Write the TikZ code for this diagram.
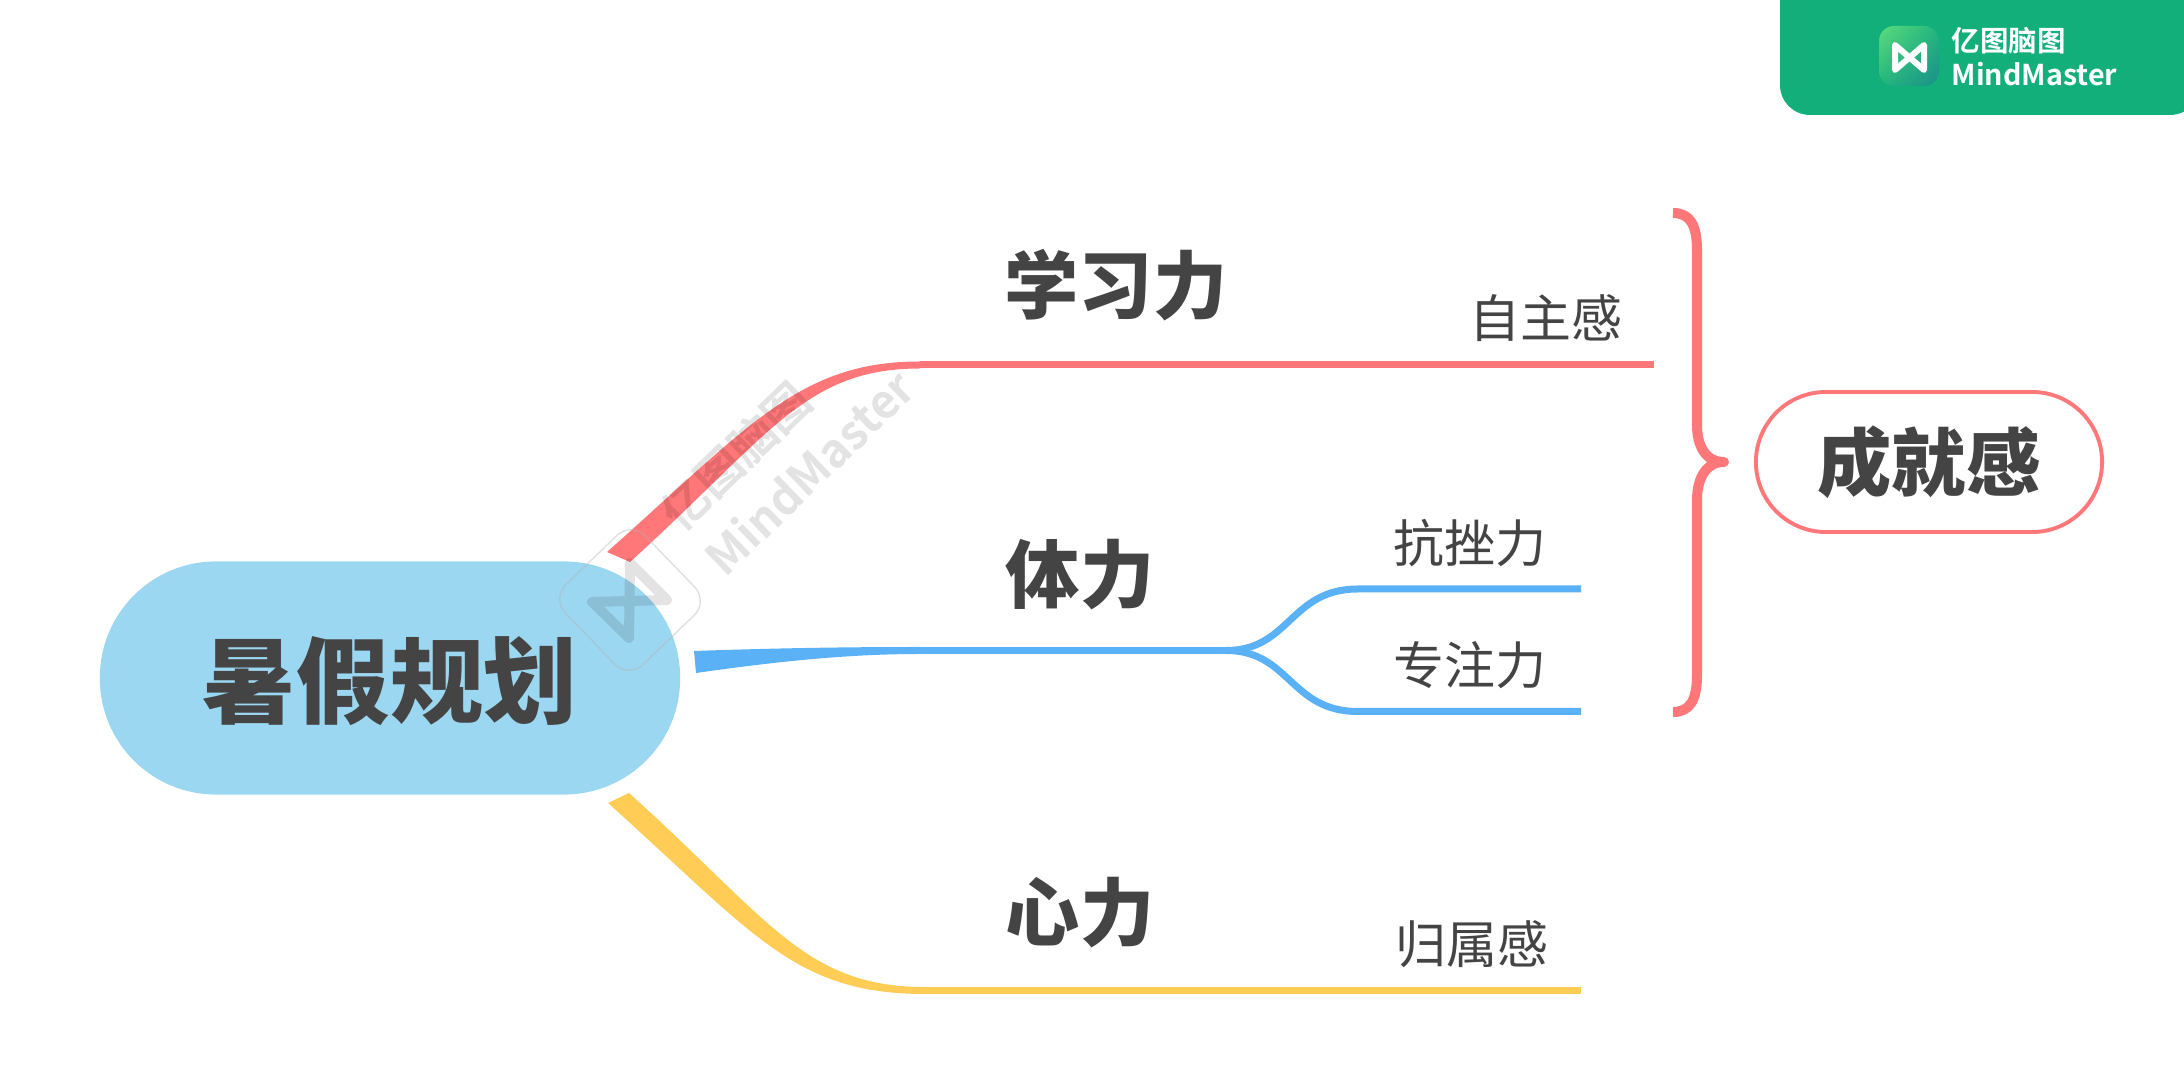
\documentclass[tikz,border=0pt]{standalone}
\usepackage{fontspec}
\setmainfont{Noto Sans CJK SC}
\newfontfamily\heavyfont{Noto Sans CJK SC Black}
\newfontfamily\boldcjk{Noto Sans CJK SC Bold}
\usetikzlibrary{
  positioning
  , calc
  , shadings
}
\definecolor{redline}{HTML}{FF7778}
\definecolor{blueline}{HTML}{5AB1F6}
\definecolor{yellowline}{HTML}{FFCC55}
\definecolor{heroblue}{HTML}{9CD7F1}
\definecolor{inkgray}{HTML}{444444}
\definecolor{badgegreen}{HTML}{12AF7B}
\definecolor{iconlight}{HTML}{5CDC7E}
\definecolor{iconmid}{HTML}{22B67C}
\definecolor{icondark}{HTML}{1A8F8C}
\tikzset{
  hero/.style={rounded corners=1.16cm, fill=heroblue, minimum width=5.8cm, minimum height=2.33cm, font=\heavyfont\fontsize{26.6}{28}\selectfont, text=inkgray},
  topic/.style={inner sep=0pt, font=\heavyfont\fontsize{21.1}{22}\selectfont, text=inkgray},
  leaf/.style={inner sep=0pt, font=\fontsize{14.5}{16}\selectfont, text=inkgray},
  outcome/.style={rounded corners=0.7cm, draw=redline, line width=1.1pt, minimum width=3.46cm, minimum height=1.4cm, font=\heavyfont\fontsize{21.1}{22}\selectfont, text=inkgray},
  branch/.style={line width=0.07cm},
  stamptext/.style={inner sep=0pt, rotate=44, black, text opacity=0.11, font=\boldcjk\fontsize{13.2}{15}\selectfont}
}
\begin{document}
\begin{tikzpicture}[x=0.01cm,y=-0.01cm]
  \useasboundingbox (0,0) rectangle (2184,1080);

  % badge
  \fill [badgegreen] (1780,-30) [rounded corners=0.3cm] -- (1780,115) -- (2200,115) [sharp corners] -- (2200,-30) -- cycle;
  \shade [rounded corners=0.15cm, upper left=iconlight, upper right=iconmid, lower left=iconmid, lower right=icondark] (1879,26) rectangle (1939,86);
  \draw [white, line width=0.06cm, line join=round] (1895,70) -- (1895,45) -- (1924,70) -- (1924,45) -- cycle;
  \node [inner sep=0pt, anchor=west, white, font=\boldcjk\fontsize{8.1}{9}\selectfont] (badgecn) at (1951,41) {亿图脑图};
  \node [inner sep=0pt, anchor=west, white, font=\boldcjk\fontsize{8.15}{9}\selectfont] (badgeen) at (1951,74) {MindMaster};

  % main nodes
  \node [hero] (plan) at (390,678) {};
  \node [inner sep=0pt, font=\heavyfont\fontsize{26.6}{28}\selectfont, text=inkgray] (plantext) at (390,681) {暑假规划};
  \node [topic] (study) at (1116,285) {学习力};
  \node [topic] (body) at (1080,575) {体力};
  \node [topic] (mind) at (1080,913) {心力};
  \node [leaf] (own) at (1546,318) {自主感};
  \node [leaf] (grit) at (1470,543) {抗挫力};
  \node [leaf] (focus) at (1470,665) {专注力};
  \node [leaf] (belong) at (1472,944) {归属感};
  \node [outcome] (done) at (1929,462) {成就感};

  % red branch
  \coordinate (redA) at (607,552);
  \coordinate (redB) at (630,562);
  \coordinate (redEnd) at (1654,365);
  \fill [redline] (redA) .. controls (750,425) and (800,361.5) .. (920,361.5) -- (920,368.5) .. controls (805,368.5) and (770,435) .. (redB) -- cycle;
  \draw [branch, redline] (920,365) -- (redEnd);

  % blue branch
  \coordinate (blueA) at (694,651);
  \coordinate (blueB) at (696,673);
  \coordinate (blueSplit) at (1226,650.5);
  \coordinate (gritEnd) at (1581,589);
  \coordinate (focusEnd) at (1581,711.5);
  \fill [blueline] (blueA) .. controls (780,648) and (850,647) .. (920,647) -- (920,654) .. controls (850,654) and (780,661) .. (blueB) -- cycle;
  \draw [branch, blueline] (920,650.5) -- (blueSplit);
  \draw [branch, blueline] (blueSplit) .. controls (1290,650.5) and (1290,589) .. (1358,589) -- (gritEnd);
  \draw [branch, blueline] (blueSplit) .. controls (1290,650.5) and (1290,711.5) .. (1358,711.5) -- (focusEnd);

  % yellow branch
  \coordinate (yellowA) at (608,803);
  \coordinate (yellowB) at (629,793);
  \coordinate (yellowEnd) at (1581,990.5);
  \fill [yellowline] (yellowA) .. controls (755,935) and (795,994) .. (925,994) -- (925,987) .. controls (805,987) and (770,920) .. (yellowB) -- cycle;
  \draw [branch, yellowline] (925,990.5) -- (yellowEnd);

  % brace
  \draw [redline, line width=0.1cm, line join=round] (1673,213)
    .. controls (1690,213) and (1697,225) .. (1697,250) -- (1697,425)
    .. controls (1697,445) and (1705,462) .. (1724,462)
    .. controls (1705,462) and (1697,480) .. (1697,500) -- (1697,675)
    .. controls (1697,700) and (1690,712) .. (1673,712);

  % watermark
  \node [draw=black!30, draw opacity=0.4, line width=0.4pt, rounded corners=0.2cm, minimum size=1.11cm, rotate=44] (stamp) at (630,600) {};
  \draw [black, draw opacity=0.11, line width=0.1cm, line join=round] (592,602) -- (629,638) -- (630,563) -- (667,600) -- cycle;
  \node [stamptext] (stampcn) at (736,456) {亿图脑图};
  \node [stamptext] (stampen) at (809,472) {MindMaster};
\end{tikzpicture}
\end{document}
